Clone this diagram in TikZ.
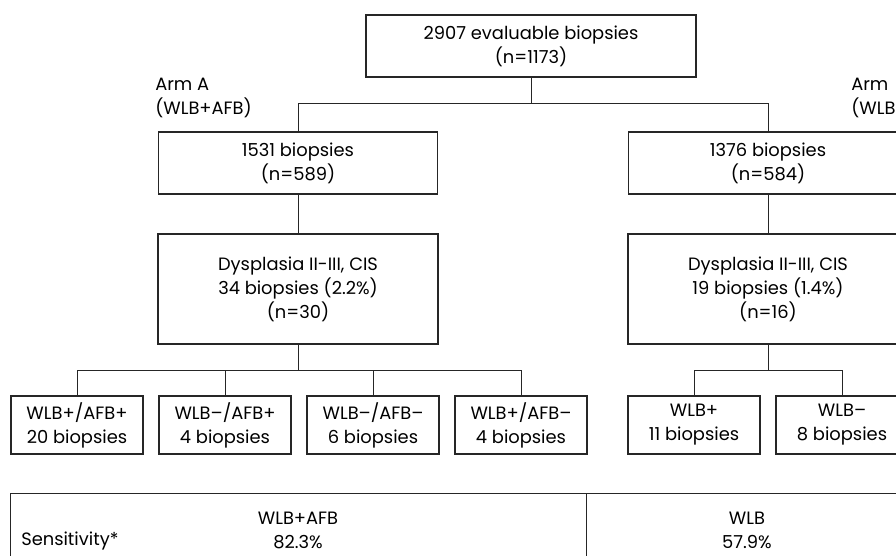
\documentclass[tikz,border=0pt]{standalone}
\usepackage{fontspec}
\setmainfont{Poppins}
\usetikzlibrary{positioning}
\tikzset{
  box/.style={draw=black!85,line width=0.9pt,align=center,inner sep=0pt,outer sep=0pt},
  bigbox/.style={box,minimum width=209pt,minimum height=46.5pt},
  dysbox/.style={box,minimum width=210pt,minimum height=82.5pt},
  leafbox/.style={box,minimum width=99pt,minimum height=43.5pt},
  link/.style={draw=black!85,line width=0.75pt},
  armlabel/.style={anchor=west,align=left,inner sep=0pt}
}
\begin{document}
\begin{tikzpicture}[x=0.75pt,y=-0.75pt,font=\fontsize{13.4}{18}\selectfont]
\useasboundingbox (0,0) rectangle (896,556);
\clip (0,0) rectangle (896,556);
\node[box,minimum width=247.5pt,minimum height=46.5pt] (total) at (531,46) {2907 evaluable biopsies\\(n=1173)};
\node[armlabel] (armAlabel) at (155,98) {Arm A\\(WLB+AFB)};
\node[armlabel] (armBlabel) at (851,98) {Arm\\(WLB};
\node[bigbox] (armA) at (298,163) {1531 biopsies\\(n=589)};
\node[bigbox] (armB) at (768,163) {1376 biopsies\\(n=584)};
\node[dysbox] (dysA) at (298,289) {Dysplasia II-III, CIS\\34 biopsies (2.2\%)\\(n=30)};
\node[dysbox] (dysB) at (768,289) {Dysplasia II-III, CIS\\19 biopsies (1.4\%)\\(n=16)};
\node[leafbox] (pp) at (77,425) {WLB+/AFB+\\20 biopsies};
\node[leafbox] (mp) at (225,425) {WLB--/AFB+\\4 biopsies};
\node[leafbox] (mm) at (373,425) {WLB--/AFB--\\6 biopsies};
\node[leafbox] (pm) at (521,425) {WLB+/AFB--\\4 biopsies};
\node[leafbox] (wp) at (694,425) {WLB+\\11 biopsies};
\node[leafbox] (wm) at (842,425) {WLB--\\8 biopsies};
\coordinate (split) at (531,104);
\coordinate (splitA) at (298,370);
\coordinate (splitB) at (768,370);
\draw[link] (total.south) -- (split);
\draw[link] (split) -| (armA.north);
\draw[link] (split) -| (armB.north);
\draw[link] (armA) -- (dysA);
\draw[link] (armB) -- (dysB);
\draw[link] (dysA.south) -- (splitA);
\draw[link] (dysB.south) -- (splitB);
\foreach \leaf in {pp,mp,mm,pm}
  \draw[link] (splitA) -| (\leaf.north);
\foreach \leaf in {wp,wm}
  \draw[link] (splitB) -| (\leaf.north);
\draw[link] (10,493) rectangle (908,600);
\draw[link] (586,493) -- (586,600);
\node[align=center] (sensA) at (298,530) {WLB+AFB\\82.3\%};
\node[align=center] (sensB) at (747,530) {WLB\\57.9\%};
\node[anchor=west,inner sep=0pt] (sens) at (21,541) {Sensitivity*};
\end{tikzpicture}
\end{document}
